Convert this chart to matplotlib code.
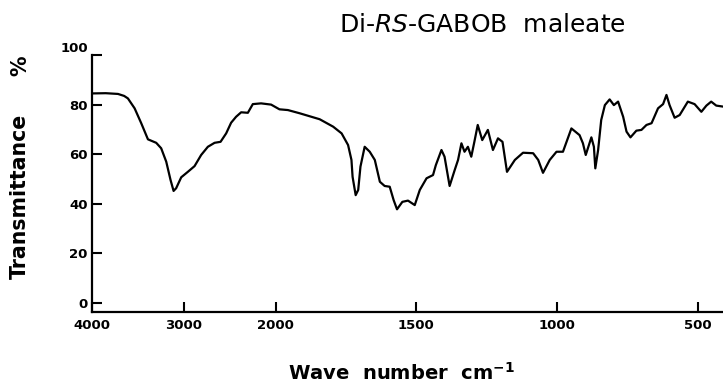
import numpy as np
import matplotlib
matplotlib.use("Agg")
from matplotlib import pyplot as plt

# IR spectrum (wave number cm-1, transmittance %)
wavenumber = [4000, 3850, 3717, 3650, 3609, 3536, 3464, 3391, 3301, 3247,
              3192, 3145, 3112, 3084, 3029, 2957, 2884, 2812, 2739, 2666,
              2601, 2540, 2486, 2432, 2377, 2304, 2250, 2160, 2051, 1987,
              1957, 1915, 1844, 1796, 1766, 1743, 1731, 1727, 1716, 1707,
              1699, 1684, 1666, 1648, 1630, 1613, 1595, 1581, 1569, 1550,
              1530, 1506, 1488, 1464, 1441, 1431, 1411, 1400, 1382, 1364,
              1352, 1340, 1329, 1317, 1305, 1294, 1282, 1266, 1246, 1228,
              1210, 1194, 1178, 1150, 1121, 1085, 1067, 1050, 1026, 1002,
              979, 949, 920, 908, 898, 878, 869, 864, 854, 843,
              830, 813, 798, 783, 765, 753, 739, 718, 700, 682,
              664, 641, 623, 611, 600, 582, 564, 535, 511, 487,
              469, 452, 434, 410]
transmittance = [84.5, 84.6, 84.3, 83.5, 82.5, 78.5, 72.5, 66.0, 64.6, 62.4,
                 57.0, 49.6, 45.2, 46.3, 50.7, 52.9, 55.2, 59.7, 63.0, 64.6,
                 65.0, 68.4, 72.7, 75.1, 76.9, 76.7, 80.2, 80.5, 80.0, 78.1,
                 77.8, 76.5, 74.1, 71.1, 68.4, 63.7, 57.7, 50.9, 43.5, 45.6,
                 55.0, 63.0, 61.0, 57.7, 48.9, 47.2, 46.9, 41.5, 37.8, 40.8,
                 41.3, 39.5, 45.6, 50.3, 51.6, 55.6, 61.7, 59.0, 47.2, 53.6,
                 57.7, 64.4, 61.0, 63.0, 59.0, 65.0, 71.8, 65.7, 69.8, 61.7,
                 66.4, 65.0, 52.9, 57.7, 60.6, 60.4, 57.7, 52.5, 57.7, 61.0,
                 61.0, 70.4, 67.7, 64.4, 59.7, 66.8, 63.0, 54.3, 61.7, 73.8,
                 79.8, 82.1, 79.8, 81.2, 75.1, 69.1, 66.8, 69.5, 69.8, 71.8,
                 72.5, 78.5, 80.2, 83.9, 79.8, 74.7, 75.8, 81.2, 80.2, 77.1,
                 79.6, 81.2, 79.6, 79.2]

xticks = [4000, 3000, 2000, 1500, 1000, 500]
yticks = [0, 20, 40, 60, 80, 100]

# scale is compressed 3x above 2000 cm-1, like the spectrometer chart paper
K = 3.06
def fwd(x):
    x = np.asarray(x, dtype=float)
    return np.where(x <= 2000, x, 2000 + (x - 2000) / K)

def inv(u):
    u = np.asarray(u, dtype=float)
    return np.where(u <= 2000, u, 2000 + (u - 2000) * K)

fig = plt.figure(figsize=(7.23, 3.84), dpi=100)
ax = fig.add_axes([0.1272, 0.1875, 0.8728, 0.6693])

ax.plot(wavenumber, transmittance, color="black", lw=1.6,
        solid_joinstyle="round", solid_capstyle="round")

ax.set_xscale("function", functions=(fwd, inv))
ax.set_xlim(4000, 410)
ax.set_ylim(-3.6, 100)
ax.set_xticks(xticks)
ax.set_xticklabels([str(t) for t in xticks])
ax.set_yticks(yticks)
ax.set_yticklabels([str(t) for t in yticks])

for s in ["top", "right"]:
    ax.spines[s].set_visible(False)
for s in ["left", "bottom"]:
    ax.spines[s].set_linewidth(1.6)

ax.tick_params(axis="x", direction="in", length=7, width=1.5, pad=5, labelsize=9.5)
ax.tick_params(axis="y", direction="in", length=7, width=1.5, pad=3, labelsize=9.5)
for lab in ax.get_xticklabels() + ax.get_yticklabels():
    lab.set_fontweight("bold")
ax.get_yticklabels()[-1].set_va("bottom")

fig.text(482 / 723, 1 - 25 / 384, r"Di-$\mathit{RS}$-GABOB  maleate",
         ha="center", va="center", fontsize=18)
fig.text(401 / 723, 1 - 373 / 384, r"Wave  number  cm$^{\mathbf{-1}}$",
         ha="center", va="center", fontsize=14, fontweight="bold")
fig.text(20 / 723, 1 - 196 / 384, "Transmittance", rotation=90,
         ha="center", va="center", fontsize=14.8, fontweight="bold")
fig.text(20 / 723, 1 - 66 / 384, "%", rotation=90,
         ha="center", va="center", fontsize=14.8, fontweight="bold")

fig.savefig("out.png", dpi=100)
